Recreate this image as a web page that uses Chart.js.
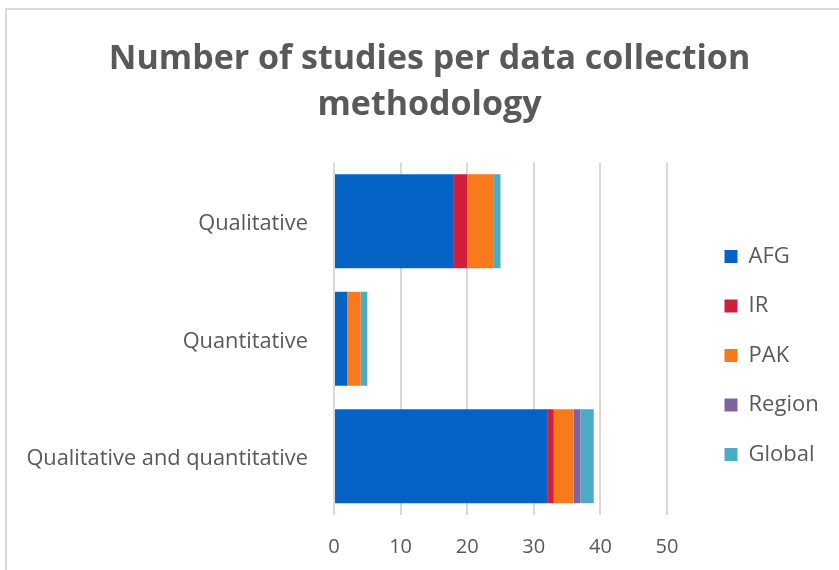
<!DOCTYPE html>
<html>
<head>
<meta charset="utf-8">
<script src="https://cdn.jsdelivr.net/npm/chart.js@4"></script>
<style>
  html, body { margin: 0; padding: 0; background: #fff; }
  #wrap { position: relative; width: 839px; height: 570px; }
  #frame { position: absolute; left: 5px; top: 8px; width: 850px; height: 580px; border: 2px solid #d9d9d9; box-sizing: border-box; }
  canvas { position: absolute; left: 0; top: 0; }
</style>
</head>
<body>
<div id="wrap">
  <div id="frame"></div>
  <canvas id="chart" width="839" height="570"></canvas>
</div>
<script>
// Categories and series (number of studies)
const categories = ["Qualitative", "Quantitative", "Qualitative and quantitative"];
const afg = [18, 2, 32];
const ir = [2, 0, 1];
const pak = [4, 2, 3];
const region = [0, 0, 1];
const global = [1, 1, 2];
const xTicks = [0, 10, 20, 30, 40, 50];

const textColor = "#595959";
const font = "'Open Sans', sans-serif";

// put legend and title where Excel had them
const placer = {
  id: "placer",
  beforeLayout(chart) {
    const lg = chart.legend;
    if (lg && !lg._patched) {
      const fit = lg.fit;
      lg.fit = function () {
        fit.call(this);
        this.width = 158;
      };
      lg._patched = true;
    }
  },
  beforeDraw(chart) {
    const lg = chart.legend;
    lg.left = 697;
    lg.right = lg.left + lg.width;
    lg.top = 218;
    lg.bottom = lg.top + lg.height;
    const t = chart.titleBlock;
    t.left = 34;
    t.right = 825;
  }
};

new Chart(document.getElementById("chart"), {
  type: "bar",
  data: {
    labels: categories,
    datasets: [
      { label: "AFG", data: afg, backgroundColor: "#0563c6" },
      { label: "IR", data: ir, backgroundColor: "#d01f3c" },
      { label: "PAK", data: pak, backgroundColor: "#f97a1b" },
      { label: "Region", data: region, backgroundColor: "#8064a2" },
      { label: "Global", data: global, backgroundColor: "#4bacc6" }
    ]
  },
  options: {
    indexAxis: "y",
    responsive: false,
    animation: false,
    datasets: { bar: { categoryPercentage: 1, barPercentage: 0.8 } },
    layout: { padding: { left: 10, right: 14, top: 36, bottom: 11 } },
    scales: {
      x: {
        stacked: true,
        min: 0,
        max: 50,
        afterBuildTicks: axis => { axis.ticks = xTicks.map(v => ({ value: v })); },
        afterFit: axis => { axis.height = 44; },
        grid: { color: "#d9d9d9", lineWidth: 2, drawTicks: false },
        border: { display: false },
        ticks: { color: textColor, font: { family: font, size: 20 }, padding: 20 }
      },
      y: {
        stacked: true,
        afterFit: axis => { axis.width = 324; },
        grid: { display: false },
        border: { display: false },
        ticks: { color: textColor, font: { family: font, size: 21.8 }, padding: 18, labelOffset: 3 }
      }
    },
    plugins: {
      title: {
        display: true,
        text: ["Number of studies per data collection", "methodology"],
        color: textColor,
        font: { family: font, size: 34, weight: "bold", lineHeight: 1.36 },
        padding: { top: 0, bottom: 34 }
      },
      legend: {
        position: "right",
        align: "start",
        labels: {
          color: textColor,
          font: { family: font, size: 22 },
          boxWidth: 13,
          boxHeight: 13,
          padding: 27.5
        }
      },
      tooltip: { enabled: false }
    }
  },
  plugins: [placer]
});
</script>
</body>
</html>
